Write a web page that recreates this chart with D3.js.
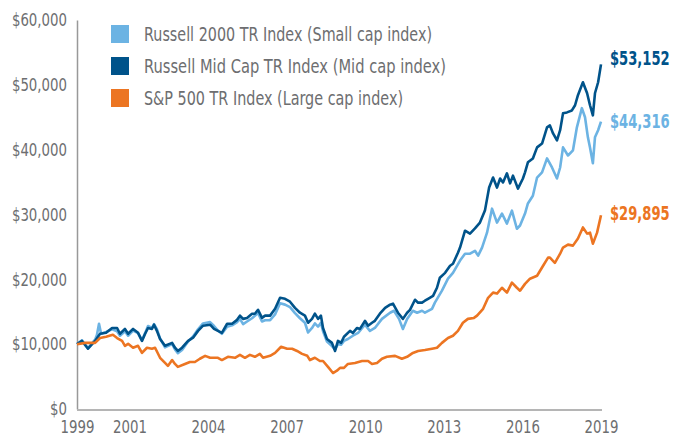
<!DOCTYPE html>
<html>
<head>
<meta charset="utf-8">
<script src="https://cdn.jsdelivr.net/npm/d3@7"></script>
<style>
  body { margin: 0; background: #fff; }
  svg text { font-family: "DejaVu Sans", sans-serif; }
</style>
</head>
<body>
<svg id="chart" width="673" height="438"></svg>
<script>
// series as [year, value of $10,000]
const smallCap = [
  [1999.0,10000],[1999.19,10600],[1999.42,9400],[1999.69,10700],[1999.76,11400],[1999.84,13140],[1999.92,11600],
  [2000.11,11900],[2000.34,12300],[2000.53,12000],[2000.64,11300],[2000.83,12000],[2000.95,11300],
  [2001.14,12100],[2001.33,11700],[2001.48,10600],[2001.6,11700],[2001.71,12800],[2001.86,12500],[2001.94,13100],
  [2002.05,12300],[2002.17,10900],[2002.36,9500],[2002.63,10000],[2002.74,9200],[2002.85,8600],
  [2003.01,9100],[2003.24,10400],[2003.43,11200],[2003.62,12300],[2003.81,13200],
  [2004.08,13400],[2004.23,12800],[2004.38,12100],[2004.53,11600],[2004.73,12700],[2004.92,12900],
  [2005.11,13400],[2005.22,13900],[2005.34,13100],[2005.49,13500],[2005.68,14000],[2005.91,14800],
  [2006.06,13500],[2006.18,13700],[2006.37,13700],[2006.56,14600],[2006.75,16300],[2006.94,16100],
  [2007.13,15700],[2007.32,14800],[2007.51,14000],[2007.70,13300],[2007.82,11800],[2007.97,12500],
  [2008.08,13200],[2008.20,12700],[2008.31,13300],[2008.39,12000],[2008.54,10400],[2008.73,9700],[2008.85,9200],[2008.96,10000],
  [2009.08,9900],[2009.19,10500],[2009.34,10800],[2009.53,11300],[2009.73,11750],[2009.99,13000],
  [2010.18,12050],[2010.37,12500],[2010.64,13900],[2010.95,14850],[2011.1,15150],[2011.29,13900],[2011.44,12350],
  [2011.60,13900],[2011.82,15150],[2011.98,14850],[2012.17,15150],[2012.28,14850],[2012.55,15450],[2012.66,16400],
  [2012.93,18250],[2013.16,20100],[2013.35,21000],[2013.62,22900],[2013.81,23950],
  [2014.0,23950],[2014.19,24400],[2014.31,23650],[2014.46,24900],[2014.65,27200],[2014.84,30900],
  [2015.03,28750],[2015.22,30150],[2015.41,28600],[2015.60,30600],[2015.79,27800],[2015.91,28300],
  [2016.10,30150],[2016.21,31700],[2016.40,32900],[2016.56,35700],[2016.75,36500],[2016.94,38650],
  [2017.13,37250],[2017.32,35550],[2017.44,37250],[2017.55,40350],[2017.74,39100],[2017.93,39900],
  [2018.08,43450],[2018.27,46400],[2018.39,45000],[2018.50,41900],[2018.58,40350],[2018.69,37900],
  [2018.77,41900],[2018.89,43000],[2019.0,44316]
];
const midCap = [
  [1999.0,10000],[1999.19,10500],[1999.42,9300],[1999.69,10500],[1999.88,11600],
  [2000.11,11750],[2000.34,12500],[2000.53,12500],[2000.64,11600],[2000.83,12350],[2000.95,11600],
  [2001.14,12350],[2001.33,11750],[2001.48,10500],[2001.60,11600],[2001.71,12500],[2001.86,12350],[2001.94,13000],
  [2002.05,12050],[2002.17,10800],[2002.36,9750],[2002.63,10200],[2002.74,9450],[2002.85,8950],
  [2003.01,9450],[2003.24,10500],[2003.43,11000],[2003.62,12050],[2003.81,12850],
  [2004.08,13000],[2004.23,12350],[2004.38,12050],[2004.53,11750],[2004.73,13150],[2004.92,13150],
  [2005.11,13750],[2005.22,14400],[2005.34,13900],[2005.49,14050],[2005.68,14700],[2005.79,14700],[2005.91,15300],
  [2006.06,14050],[2006.18,14400],[2006.37,14400],[2006.56,15450],[2006.75,17150],[2006.94,17000],
  [2007.13,16550],[2007.32,15600],[2007.51,14850],[2007.70,14400],[2007.82,13300],[2007.97,13900],
  [2008.08,14700],[2008.20,13900],[2008.31,14400],[2008.39,12500],[2008.54,10800],[2008.73,10200],[2008.85,8950],[2008.96,10500],
  [2009.08,10200],[2009.19,11150],[2009.42,12050],[2009.53,11750],[2009.69,12500],[2009.80,12350],[2009.99,13600],
  [2010.11,12850],[2010.26,13300],[2010.37,13600],[2010.56,14700],[2010.76,15600],[2010.95,16100],
  [2011.06,16250],[2011.25,14850],[2011.44,13900],[2011.60,14850],[2011.71,15300],[2011.90,16850],
  [2012.02,16400],[2012.17,16400],[2012.28,16700],[2012.40,17000],[2012.59,17450],[2012.74,18700],[2012.85,20250],
  [2013.05,21000],[2013.24,22100],[2013.35,22400],[2013.54,24100],[2013.62,24900],[2013.81,27500],
  [2014.0,27050],[2014.19,27850],[2014.38,28750],[2014.57,30600],[2014.73,34150],[2014.88,35700],
  [2015.03,34150],[2015.15,35550],[2015.26,34950],[2015.41,36350],[2015.53,34800],[2015.64,36000],[2015.83,34000],
  [2016.02,35550],[2016.10,36500],[2016.21,38050],[2016.40,38650],[2016.56,40350],[2016.75,40950],[2016.94,43450],
  [2017.05,43750],[2017.17,42500],[2017.32,41450],[2017.44,43000],[2017.55,45600],[2017.70,45750],[2017.89,46050],
  [2018.01,46850],[2018.12,48400],[2018.31,50400],[2018.47,48700],[2018.58,46850],[2018.69,45300],
  [2018.77,48700],[2018.89,50400],[2019.0,53152]
];
const largeCap = [
  [1999.0,10000],[1999.31,10200],[1999.69,10200],[1999.88,10950],
  [2000.11,11150],[2000.37,11450],[2000.53,10950],[2000.72,10500],[2000.83,9750],[2000.95,10050],
  [2001.14,9450],[2001.33,9750],[2001.48,8650],[2001.67,9450],[2001.86,9300],[2001.98,9450],
  [2002.17,7900],[2002.36,7100],[2002.47,6650],[2002.63,7550],[2002.74,6950],[2002.85,6500],
  [2003.12,6950],[2003.31,7250],[2003.50,7250],[2003.69,7750],[2003.89,8200],
  [2004.08,7900],[2004.23,7900],[2004.38,7900],[2004.53,7550],[2004.76,8050],
  [2005.03,7900],[2005.22,8350],[2005.41,7900],[2005.60,8350],[2005.79,8050],[2005.98,8500],
  [2006.10,7900],[2006.37,8200],[2006.56,8650],[2006.79,9600],
  [2007.02,9300],[2007.21,9300],[2007.40,8950],[2007.59,8500],[2007.79,8200],[2007.89,7550],
  [2008.08,7900],[2008.27,7400],[2008.39,7400],[2008.58,6500],[2008.77,5550],[2008.92,5900],
  [2009.04,6350],[2009.19,6350],[2009.34,6950],[2009.61,7100],[2009.88,7400],
  [2010.11,7400],[2010.26,6950],[2010.45,7100],[2010.64,7750],[2010.83,8050],
  [2011.14,8200],[2011.40,7750],[2011.60,8050],[2011.82,8650],
  [2012.02,8950],[2012.28,9100],[2012.55,9300],[2012.74,9450],[2012.93,10200],
  [2013.16,10950],[2013.35,11300],[2013.54,12050],[2013.73,13300],[2013.92,13900],
  [2014.15,14050],[2014.27,14400],[2014.50,15450],[2014.69,17150],[2014.88,17950],
  [2015.03,17800],[2015.22,18700],[2015.41,17950],[2015.60,19500],[2015.79,18700],[2015.91,18250],
  [2016.10,19300],[2016.29,20100],[2016.56,20550],[2016.79,22100],[2016.98,23350],
  [2017.05,23350],[2017.24,22550],[2017.44,23950],[2017.55,24900],[2017.74,25350],[2017.93,25200],
  [2018.12,26300],[2018.31,28000],[2018.47,27050],[2018.58,27200],[2018.69,25500],[2018.85,27200],[2019.0,29895]
];

const seriesNames = ["Russell 2000 TR Index (Small cap index)", "Russell Mid Cap TR Index (Mid cap index)", "S&P 500 TR Index (Large cap index)"];
const seriesColors = ["#6cb3e3", "#00538a", "#ec7522"];
const endLabels = ["$44,316", "$53,152", "$29,895"];
const yearTicks = [1999, 2001, 2004, 2007, 2010, 2013, 2016, 2019];
const valueTicks = [0, 10000, 20000, 30000, 40000, 50000, 60000];

const svg = d3.select("#chart");
const x = d3.scaleLinear().domain([1999, 2019]).range([77, 601]);
const y = d3.scaleLinear().domain([0, 60000]).range([409, 20]);

// no condensed face installed, so squeeze glyphs to fake one
function condense(sel, k) {
  sel.each(function() {
    const w = this.getComputedTextLength();
    d3.select(this).attr("textLength", w * k).attr("lengthAdjust", "spacingAndGlyphs");
  });
}

// y axis
const yAxis = svg.append("g")
  .attr("transform", "translate(77,0)")
  .call(d3.axisLeft(y).tickValues(valueTicks).tickSize(0).tickPadding(10).tickFormat(d3.format("$,")));
yAxis.select(".domain").attr("stroke", "#999").attr("stroke-width", 1.5);
yAxis.selectAll("text").attr("fill", "#6d6e70").style("font-size", "18px").call(condense, 0.74);

// x axis
const xAxis = svg.append("g")
  .attr("transform", "translate(0,410)")
  .call(d3.axisBottom(x).tickValues(yearTicks).tickSize(0).tickPadding(10).tickFormat(d => d));
xAxis.select(".domain").attr("stroke", "#b5b5b5").attr("stroke-width", 2).attr("d", "M77,0H602");
xAxis.selectAll("text").attr("fill", "#6d6e70").style("font-size", "18px").call(condense, 0.74);

const line = d3.line().x(d => x(d[0])).y(d => y(d[1]));
const allSeries = [smallCap, midCap, largeCap];

svg.selectAll("path.series")
  .data(allSeries)
  .enter().append("path")
  .attr("class", "series")
  .attr("fill", "none")
  .attr("stroke", (d, i) => seriesColors[i])
  .attr("stroke-width", 2.6)
  .attr("stroke-linejoin", "round")
  .attr("d", line);

// end labels
svg.selectAll("text.endlabel")
  .data(allSeries)
  .enter().append("text")
  .attr("class", "endlabel")
  .attr("x", 610)
  .attr("y", (d, i) => [121, 58, 213][i])
  .attr("dy", "0.35em")
  .attr("fill", (d, i) => seriesColors[i])
  .style("font-size", "19px")
  .style("font-weight", "bold")
  .text((d, i) => endLabels[i])
  .call(condense, 0.69);

// legend
const legendWidths = [288, 302, 259];
const legend = svg.append("g").attr("transform", "translate(111,25)");
seriesNames.forEach(function(name, i) {
  const row = legend.append("g").attr("transform", "translate(0," + (i * 32) + ")");
  row.append("rect").attr("width", 18).attr("height", 18).attr("fill", seriesColors[i]);
  row.append("text").attr("x", 33).attr("y", 9).attr("dy", "0.35em")
    .attr("fill", "#6d6e70").style("font-size", "19px").text(name)
    .attr("textLength", legendWidths[i]).attr("lengthAdjust", "spacingAndGlyphs");
});
</script>
</body>
</html>
